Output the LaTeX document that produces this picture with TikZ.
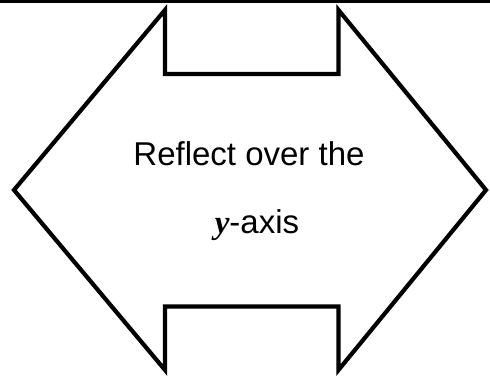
\documentclass[tikz,border=0pt]{standalone}
\usepackage{fontspec}
\setmainfont{Liberation Sans}
\newfontfamily\tnr{Liberation Serif}
\begin{document}
\begin{tikzpicture}[x={(1pt,0)},y={(0,-1pt)},
  outline/.style={draw=black,line width=4.2pt,line join=miter},
  lbl/.style={anchor=base,inner sep=0pt,font=\fontsize{33}{36}\selectfont}]
\useasboundingbox (0,0) rectangle (490,375);
\fill[black] (0,0) rectangle (490,2.6);
\draw[outline] (165,10) -- (165,74) -- (338.5,74) -- (338.5,10) -- (486,190)
  -- (338.5,370) -- (338.5,306.5) -- (165,306.5) -- (165,370) -- (14,190) -- cycle;
\node[lbl] (l1) at (249,165) {Reflect over the};
\node[lbl] (l2) at (257,233) {{\tnr\bfseries\itshape y}-axis};
\end{tikzpicture}
\end{document}
